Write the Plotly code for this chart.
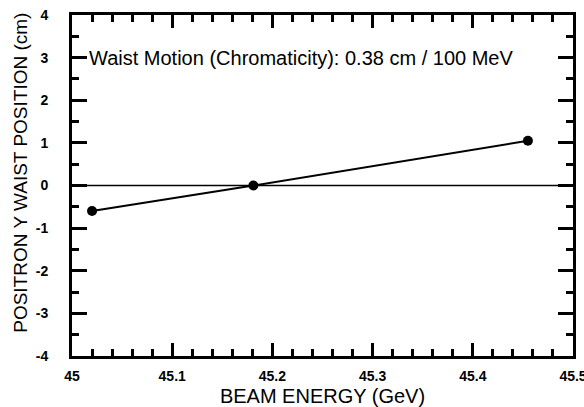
import plotly.graph_objects as go

energy = [45.02, 45.181, 45.455]
waist = [-0.6, 0.0, 1.05]
x_major_ticks = [45, 45.1, 45.2, 45.3, 45.4, 45.5]
x_major_labels = ["45", "45.1", "45.2", "45.3", "45.4", "45.5"]
x_all_ticks = [round(45 + 0.02 * i, 2) for i in range(26)]
y_major_ticks = [-4, -3, -2, -1, 0, 1, 2, 3, 4]
y_all_ticks = [-4, -3.5, -3, -2.5, -2, -1.5, -1, -0.5, 0, 0.5, 1, 1.5, 2, 2.5, 3, 3.5, 4]
zero_line_x = [45, 45.5]
zero_line_y = [0, 0]

font = "Liberation Sans, Arial, sans-serif"

x_all_text = []
for v in x_all_ticks:
    lab = [l for t, l in zip(x_major_ticks, x_major_labels) if abs(t - v) < 1e-9]
    x_all_text.append(f"<b>{lab[0]}</b>" if lab else "")
y_all_text = [f"<b>{int(v)}</b>" if v in y_major_ticks else "" for v in y_all_ticks]

fig = go.Figure()
fig.add_trace(go.Scatter(x=zero_line_x, y=zero_line_y, mode="lines",
                         line=dict(color="black", width=1.5), showlegend=False, hoverinfo="skip"))
fig.add_trace(go.Scatter(x=energy, y=waist, mode="lines+markers",
                         line=dict(color="black", width=2),
                         marker=dict(color="black", size=10), showlegend=False))
# invisible trace attached to the overlay axes that carry the long major ticks
fig.add_trace(go.Scatter(x=zero_line_x, y=zero_line_y, xaxis="x2", yaxis="y2", mode="lines",
                         line=dict(width=0), opacity=0, showlegend=False, hoverinfo="skip"))

fig.add_annotation(x=0.03, y=3, xref="paper", yref="y", xanchor="left", yanchor="middle",
                   text="Waist Motion (Chromaticity): 0.38 cm / 100 MeV", showarrow=False,
                   font=dict(family=font, size=20, color="black"))

fig.add_annotation(x=-0.102, y=0.537, xref="paper", yref="paper", xanchor="center", yanchor="middle",
                   text="POSITRON Y WAIST POSITION (cm)", textangle=-90, showarrow=False,
                   font=dict(family=font, size=19, color="black"))

def axis_style(standoff):
    return dict(tickmode="array", showgrid=False, zeroline=False, showline=True, linecolor="black", linewidth=3,
                mirror="allticks", ticks="inside", ticklen=7, tickcolor="black", tickwidth=3,
                automargin=False, ticklabelstandoff=standoff, ticklabeloverflow="allow",
                tickfont=dict(family=font, size=14, color="black"))

def major_style(vals, length):
    return dict(tickmode="array", tickvals=vals, showticklabels=False, ticks="inside", ticklen=length,
                tickcolor="black", tickwidth=3, showgrid=False, zeroline=False, showline=False,
                mirror="allticks", automargin=False)

fig.update_layout(
    xaxis=dict(range=[45, 45.5], tickvals=x_all_ticks, ticktext=x_all_text,
               title=dict(text="BEAM ENERGY (GeV)", font=dict(family=font, size=20, color="black"), standoff=12),
               **axis_style(5)),
    yaxis=dict(range=[-4, 4], tickvals=y_all_ticks, ticktext=y_all_text, **axis_style(18)),
    xaxis2=dict(range=[45, 45.5], overlaying="x", anchor="y2", side="bottom", **major_style(x_major_ticks, 13)),
    yaxis2=dict(range=[-4, 4], overlaying="y", anchor="x2", side="left", **major_style(y_major_ticks, 15)),
    width=584, height=407, margin=dict(l=72, r=11, t=15, b=51),
    plot_bgcolor="white", paper_bgcolor="white",
)

fig.write_html("out.html", config={"displayModeBar": False},
               post_script="document.body.style.margin='0';document.body.style.overflow='hidden';")
